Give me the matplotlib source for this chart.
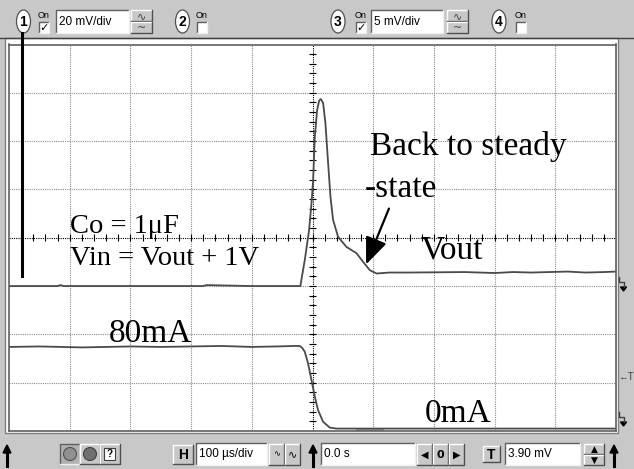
import numpy as np
import matplotlib.pyplot as plt
from matplotlib.patches import Rectangle, Ellipse, Polygon, FancyArrowPatch
from matplotlib.lines import Line2D

# figure size in pixels
W, H = 634, 469
DPI = 100

# time base 100 us/div, screen is -500..500 us
# traces are in screen divisions (-4..4), ch1 20 mV/div, ch3 5 mV/div
t_vout = [-500, -420, -415, -410, -300, -180, -175, -100, -40, -20, -12.7, -5.6,
          -1.6, 1.0, 3.8, 7.6, 11.0, 13.7, 17.5, 21.3, 25.7, 29.6, 33.9, 42.1,
          56.0, 72.5, 83.4, 94.4, 105.4, 127.3, 160, 250, 300, 330, 360, 420,
          450, 480, 500]
v_vout = [-1.0, -1.0, -0.98, -1.0, -1.0, -1.0, -0.98, -1.0, -1.0, -1.0, -0.46, 0.16,
          0.72, 1.19, 2.09, 2.64, 2.84, 2.87, 2.79, 2.37, 1.55, 0.85, 0.37, 0.02,
          -0.19, -0.32, -0.50, -0.67, -0.74, -0.72, -0.72, -0.71, -0.73, -0.71, -0.72,
          -0.70, -0.72, -0.71, -0.70]

t_iout = [-500, -450, -380, -300, -250, -150, -100, -60, -30, -21, -17, -12.7,
          -7.3, -1.6, 3.8, 9.2, 17.5, 28.5, 40, 500]
v_iout = [-2.26, -2.25, -2.27, -2.25, -2.26, -2.24, -2.26, -2.25, -2.24, -2.24,
          -2.28, -2.36, -2.60, -2.95, -3.29, -3.57, -3.81, -3.93, -3.95, -3.95]

# toolbar labels
ch_labels = ['1', '2', '3', '4']
ch_scales = ['20 mV/div', '', '5 mV/div', '']
timebase_label = '100 µs/div'
delay_label = '0.0 s'
trig_label = '3.90 mV'

bar_grey = '#c8c8c8'
sans = 'Liberation Sans'
serif = 'Liberation Serif'

fig = plt.figure(figsize=(W / DPI, H / DPI), dpi=DPI)
fig.patch.set_facecolor(bar_grey)


def fx(x):
    return x / W


def fy(y):
    return 1 - y / H


def rect(x0, y0, x1, y1, **kw):
    fig.add_artist(Rectangle((fx(x0), fy(y1)), (x1 - x0) / W, (y1 - y0) / H,
                             transform=fig.transFigure, **kw))


def line(xs, ys, **kw):
    fig.add_artist(Line2D([fx(x) for x in xs], [fy(y) for y in ys],
                          transform=fig.transFigure, **kw))


def text(x, y, s, **kw):
    fig.text(fx(x), fy(y), s, **kw)


def sunken(x0, y0, x1, y1, fill='white'):
    rect(x0, y0, x1, y1, facecolor=fill, edgecolor='none')
    line([x0, x0, x1], [y1, y0, y0], color='#606060', lw=1.0)
    line([x0, x1, x1], [y1, y1, y0], color='#f0f0f0', lw=1.0)


def raised(x0, y0, x1, y1, fill=bar_grey):
    rect(x0, y0, x1, y1, facecolor=fill, edgecolor='none')
    line([x0, x0, x1], [y1, y0, y0], color='white', lw=1.0)
    line([x0, x1, x1], [y1, y1, y0], color='#505050', lw=1.0)


def up_arrow(xc, y0, y1):
    line([xc, xc], [y0 + 6, y1], color='black', lw=2.2)
    fig.add_artist(Polygon([(fx(xc - 4), fy(y0 + 8)), (fx(xc + 4), fy(y0 + 8)),
                            (fx(xc), fy(y0))], closed=True, color='black',
                           transform=fig.transFigure))


# screen panel, kept behind the axes
rect(5, 38, 618, 433, facecolor='white', edgecolor='#808080', lw=1.0, zorder=-5)

ax = fig.add_axes([fx(9), fy(431), 607 / W, 386.5 / H])
ax.set_zorder(2)
ax.set_xlim(-500, 500)
ax.set_ylim(-4, 4)
ax.set_xticks([])
ax.set_yticks([])
for s in ax.spines.values():
    s.set_color('#606060')
    s.set_linewidth(1.2)

# graticule
for xv in np.arange(-400, 500, 100):
    ax.axvline(xv, color='black' if xv == 0 else '#8c8c8c', ls=(0, (1, 1)), lw=0.8)
for yv in np.arange(-3, 4, 1):
    ax.axhline(yv, color='black' if yv == 0 else '#8c8c8c', ls=(0, (1, 1)), lw=0.8)
ax.vlines(np.arange(-480, 500, 20), -0.07, 0.07, color='black', lw=0.8)
ax.hlines(np.arange(-3.8, 4, 0.2), -5, 5, color='black', lw=0.8)

# traces
ax.plot(t_vout, v_vout, color='#4a4a4a', lw=1.3)
ax.plot(t_iout, v_iout, color='#4a4a4a', lw=1.3)

# trigger position bar on bottom edge
ax.axhspan(-4, -3.93, xmin=0.572, xmax=0.618, color='#a8a8a8', lw=0)

# annotations, drawn above the axes
tkw = dict(fontsize=24, family=serif, va='baseline', color='black', zorder=5)
text(70, 232.7, 'Co = 1μF', **dict(tkw, fontsize=20.5))
text(70, 265, 'Vin = Vout + 1V', **dict(tkw, fontsize=20.5))
text(370, 155, 'Back to steady', **tkw)
text(365, 196.7, '-state', **tkw)
text(421, 258.3, 'Vout', **tkw)
text(109, 341.7, '80mA', **tkw)
text(425, 421.7, '0mA', **tkw)
fig.add_artist(FancyArrowPatch((fx(390), fy(206)), (fx(365), fy(267)),
                               transform=fig.transFigure,
                               arrowstyle='-|>,head_length=1.1,head_width=0.45',
                               mutation_scale=15, color='black', lw=1.6, zorder=5))

# channel 1 marker
line([21.5, 21.5], [33, 276], color='black', lw=2.2, zorder=5)

# right edge markers
for yy in [277, 412]:
    line([618.5, 618.5, 623.5, 623.5], [yy, yy + 5, yy + 5, yy + 10],
         color='#404040', lw=1.0)
    fig.add_artist(Polygon([(fx(620.5), fy(yy + 10)), (fx(626.5), fy(yy + 10)),
                            (fx(623.5), fy(yy + 14))], closed=True, color='black',
                           transform=fig.transFigure))
text(618, 377, '←T', fontsize=7, family=sans, color='#404040', va='center')

# top toolbar
line([0, W], [38, 38], color='#404040', lw=1.0)
ovals = [23.5, 182.5, 338, 499]
boxes = [39, 197, 356, 516]
fields = [(56, 129), None, (371, 443), None]
buttons = [(131, 152), None, (447, 468), None]
for i in range(4):
    fig.add_artist(Ellipse((fx(ovals[i]), fy(21.5)), 14 / W, 23 / H,
                           facecolor='white', edgecolor='#505050', lw=0.9,
                           transform=fig.transFigure))
    text(ovals[i], 22, ch_labels[i], fontsize=10, family=sans, weight='bold',
         ha='center', va='center')
    text(boxes[i] + 5, 15, 'On', fontsize=6.5, family=sans, ha='center', va='center')
    sunken(boxes[i], 22, boxes[i] + 10, 33)
    if ch_scales[i]:
        text(boxes[i] + 5, 27.8, '✓', fontsize=8, family='DejaVu Sans',
             weight='bold', ha='center', va='center')
        f0, f1 = fields[i]
        sunken(f0, 10, f1, 33)
        text(f0 + 3, 22, ch_scales[i], fontsize=8.5, family=sans, va='center')
        b0, b1 = buttons[i]
        raised(b0, 10, b1, 21)
        raised(b0, 22, b1, 33)
        text((b0 + b1) / 2, 16, '∿', fontsize=8, family='DejaVu Sans',
             ha='center', va='center', color='#404040')
        text((b0 + b1) / 2, 27.5, '~', fontsize=8, family='DejaVu Sans',
             ha='center', va='center', color='#404040')

# bottom toolbar
up_arrow(7, 445, 466)
sunken(60, 444, 80, 464, fill='#b0b0b0')
fig.add_artist(Ellipse((fx(70), fy(454)), 13 / W, 13 / H, facecolor='#909090',
                       edgecolor='#505050', lw=0.8, transform=fig.transFigure))
raised(80, 444, 100, 464)
fig.add_artist(Ellipse((fx(90), fy(454)), 13 / W, 13 / H, facecolor='#707070',
                       edgecolor='#404040', lw=0.8, transform=fig.transFigure))
raised(100, 444, 120, 464)
rect(104, 448, 115, 460, facecolor='white', edgecolor='#404040', lw=0.8)
text(110, 454, '?', fontsize=7, family=sans, weight='bold', ha='center', va='center')

raised(173, 445, 193, 464)
text(183, 455, 'H', fontsize=10, family=sans, weight='bold', ha='center', va='center')
sunken(196, 443, 267, 465)
text(199, 454, timebase_label, fontsize=8.5, family=sans, va='center')
raised(269, 444, 284, 465)
raised(285, 444, 300, 465)
text(276.5, 454, '∿', fontsize=6, family='DejaVu Sans', ha='center', va='center')
text(292.5, 454, '∿', fontsize=8, family='DejaVu Sans', ha='center', va='center')
up_arrow(313, 445, 466)
sunken(321, 443, 415, 465)
text(324, 454, delay_label, fontsize=8.5, family=sans, va='center')
for j, sym in enumerate(['◀', '0', '▶']):
    raised(417 + 16 * j, 444, 432 + 16 * j, 465)
    text(424.5 + 16 * j, 455, sym, fontsize=7 if j != 1 else 8, family='DejaVu Sans',
         weight='bold', ha='center', va='center')
raised(483, 446, 500, 462)
text(491.5, 454.5, 'T', fontsize=10, family=sans, weight='bold', ha='center', va='center')
sunken(505, 443, 580, 465)
text(508, 454, trig_label, fontsize=8.5, family=sans, va='center')
raised(584, 444, 604, 454)
raised(584, 455, 604, 465)
text(594, 449.5, '▲', fontsize=6.5, family='DejaVu Sans', ha='center', va='center')
text(594, 460, '▼', fontsize=6.5, family='DejaVu Sans', ha='center', va='center')
up_arrow(614, 445, 466)

fig.savefig('out.png', dpi=DPI, facecolor=fig.get_facecolor())
